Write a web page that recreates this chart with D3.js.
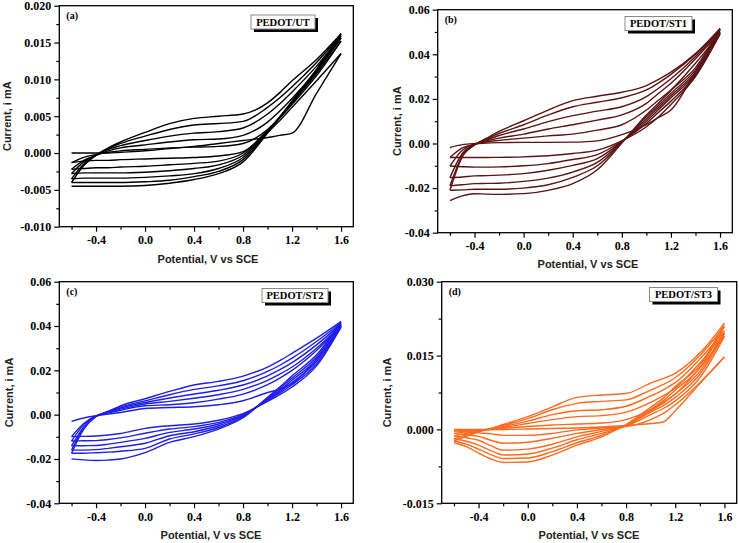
<!DOCTYPE html>
<html><head><meta charset="utf-8">
<script src="https://cdn.jsdelivr.net/npm/d3@7"></script>
<style>body{margin:0;background:#fff}svg{display:block}</style>
</head><body><svg id="chart" width="739" height="543"></svg>
<script>
// Potential grid (V vs SCE) shared by every sweep; each sweep listed in ascending potential
const potentials = [-0.6,-0.5,-0.4,-0.3,-0.2,0.0,0.2,0.4,0.6,0.8,1.0,1.1,1.2,1.4,1.6];

// (a) PEDOT/UT
const aForward = [
  [0,0,0,0,0.0001,0.0003,0.0006,0.0009,0.0013,0.0017,0.0021,0.0024,0.0027,0.0081,0.0135],
  [-0.0013,-0.0006,-0.0002,0.0001,0.0003,0.0005,0.0007,0.0008,0.0009,0.0013,0.0032,0.0048,0.0066,0.0105,0.0152],
  [-0.0022,-0.0010,-0.0003,0.0003,0.0007,0.0011,0.0015,0.0018,0.0019,0.0024,0.0042,0.0057,0.0074,0.0112,0.0156],
  [-0.0028,-0.0012,-0.0003,0.0005,0.0010,0.0017,0.0023,0.0027,0.0029,0.0034,0.0053,0.0067,0.0083,0.0118,0.0159],
  [-0.0035,-0.0015,-0.0003,0.0006,0.0013,0.0023,0.0032,0.0038,0.0040,0.0043,0.0062,0.0075,0.0090,0.0123,0.0161],
  [-0.0040,-0.0017,-0.0003,0.0007,0.0015,0.0028,0.0040,0.0047,0.0050,0.0053,0.0068,0.0082,0.0098,0.0127,0.0162]
];
const aReverse = [
  [-0.0013,-0.0011,-0.0010,-0.0010,-0.0009,-0.0008,-0.0007,-0.0006,-0.0004,0.0002,0.0028,0.0044,0.0062,0.0098,0.0135],
  [-0.0022,-0.0021,-0.0020,-0.0020,-0.0019,-0.0018,-0.0016,-0.0014,-0.0011,0.0000,0.0031,0.0048,0.0068,0.0108,0.0152],
  [-0.0028,-0.0027,-0.0027,-0.0027,-0.0027,-0.0026,-0.0024,-0.0021,-0.0016,-0.0003,0.0030,0.0049,0.0069,0.0110,0.0156],
  [-0.0035,-0.0034,-0.0034,-0.0034,-0.0034,-0.0033,-0.0031,-0.0028,-0.0021,-0.0006,0.0029,0.0049,0.0070,0.0112,0.0159],
  [-0.0040,-0.0040,-0.0040,-0.0040,-0.0040,-0.0039,-0.0037,-0.0032,-0.0025,-0.0009,0.0028,0.0049,0.0070,0.0113,0.0161],
  [-0.0045,-0.0045,-0.0045,-0.0045,-0.0045,-0.0044,-0.0041,-0.0036,-0.0028,-0.0012,0.0027,0.0048,0.0070,0.0114,0.0162]
];

// (b) PEDOT/ST1
const bForward = [
  [-0.0018,-0.0005,0.0000,0.0002,0.0004,0.0005,0.0005,0.0006,0.0012,0.0040,0.0085,0.0117,0.0150,0.0320,0.0490],
  [-0.0063,-0.0020,-0.0003,0.0008,0.0014,0.0024,0.0034,0.0042,0.0060,0.0084,0.0150,0.0195,0.0240,0.0360,0.0495],
  [-0.0101,-0.0030,-0.0004,0.0012,0.0024,0.0042,0.0065,0.0084,0.0105,0.0128,0.0180,0.0225,0.0270,0.0380,0.0500],
  [-0.0153,-0.0045,-0.0005,0.0016,0.0036,0.0065,0.0098,0.0125,0.0145,0.0165,0.0210,0.0248,0.0290,0.0390,0.0508],
  [-0.0190,-0.0055,-0.0006,0.0020,0.0045,0.0084,0.0128,0.0165,0.0185,0.0205,0.0240,0.0272,0.0310,0.0400,0.0512],
  [-0.0210,-0.0060,-0.0007,0.0024,0.0054,0.0102,0.0150,0.0192,0.0212,0.0230,0.0260,0.0288,0.0320,0.0403,0.0516]
];
const bReverse = [
  [-0.0063,-0.0063,-0.0063,-0.0063,-0.0062,-0.0060,-0.0055,-0.0045,-0.0030,0.0012,0.0075,0.0120,0.0175,0.0300,0.0490],
  [-0.0101,-0.0104,-0.0106,-0.0106,-0.0105,-0.0100,-0.0090,-0.0072,-0.0050,0.0010,0.0090,0.0140,0.0190,0.0305,0.0495],
  [-0.0153,-0.0150,-0.0145,-0.0144,-0.0142,-0.0135,-0.0120,-0.0098,-0.0068,0.0008,0.0100,0.0152,0.0205,0.0312,0.0500],
  [-0.0190,-0.0185,-0.0180,-0.0179,-0.0178,-0.0170,-0.0155,-0.0128,-0.0085,0.0006,0.0110,0.0162,0.0215,0.0320,0.0508],
  [-0.0210,-0.0208,-0.0205,-0.0205,-0.0205,-0.0200,-0.0185,-0.0152,-0.0100,0.0004,0.0120,0.0172,0.0225,0.0330,0.0512],
  [-0.0256,-0.0235,-0.0225,-0.0227,-0.0228,-0.0225,-0.0210,-0.0180,-0.0118,0.0002,0.0128,0.0182,0.0238,0.0340,0.0516]
];

// (c) PEDOT/ST2
const cForward = [
  [-0.0030,-0.0015,-0.0005,0.0003,0.0010,0.0028,0.0032,0.0036,0.0045,0.0063,0.0100,0.0115,0.0140,0.0250,0.0395],
  [-0.0099,-0.0040,-0.0005,0.0008,0.0020,0.0040,0.0045,0.0054,0.0070,0.0093,0.0135,0.0165,0.0200,0.0290,0.0400],
  [-0.0119,-0.0045,-0.0006,0.0010,0.0025,0.0048,0.0060,0.0074,0.0090,0.0114,0.0155,0.0183,0.0215,0.0300,0.0405],
  [-0.0141,-0.0055,-0.0007,0.0012,0.0030,0.0055,0.0075,0.0093,0.0110,0.0134,0.0175,0.0203,0.0235,0.0315,0.0410],
  [-0.0160,-0.0060,-0.0008,0.0014,0.0035,0.0062,0.0090,0.0114,0.0130,0.0153,0.0195,0.0223,0.0255,0.0330,0.0415],
  [-0.0174,-0.0065,-0.0008,0.0016,0.0040,0.0072,0.0105,0.0134,0.0150,0.0174,0.0215,0.0244,0.0277,0.0345,0.0420]
];
const cReverse = [
  [-0.0099,-0.0098,-0.0096,-0.0092,-0.0085,-0.0062,-0.0050,-0.0042,-0.0025,0.0005,0.0060,0.0090,0.0125,0.0220,0.0395],
  [-0.0119,-0.0118,-0.0117,-0.0112,-0.0105,-0.0084,-0.0065,-0.0054,-0.0035,0.0000,0.0065,0.0098,0.0135,0.0230,0.0400],
  [-0.0141,-0.0140,-0.0139,-0.0133,-0.0125,-0.0107,-0.0080,-0.0065,-0.0042,-0.0003,0.0068,0.0104,0.0145,0.0240,0.0405],
  [-0.0160,-0.0160,-0.0158,-0.0152,-0.0145,-0.0129,-0.0095,-0.0077,-0.0050,-0.0006,0.0072,0.0110,0.0155,0.0250,0.0410],
  [-0.0174,-0.0174,-0.0172,-0.0169,-0.0165,-0.0152,-0.0110,-0.0087,-0.0058,-0.0010,0.0075,0.0118,0.0165,0.0260,0.0415],
  [-0.0200,-0.0204,-0.0207,-0.0205,-0.0200,-0.0171,-0.0125,-0.0099,-0.0065,-0.0014,0.0078,0.0125,0.0175,0.0270,0.0420]
];

// (d) PEDOT/ST3
const dForward = [
  [0,0,0,0,0,0.0001,0.0002,0.0003,0.0005,0.0008,0.0012,0.0015,0.0038,0.0093,0.0147],
  [-0.0003,-0.0002,-0.0001,0.0000,0.0002,0.0006,0.0009,0.0011,0.0013,0.0020,0.0040,0.0055,0.0072,0.0125,0.0189],
  [-0.0008,-0.0005,-0.0002,0.0001,0.0004,0.0012,0.0020,0.0026,0.0028,0.0035,0.0055,0.0068,0.0084,0.0135,0.0195],
  [-0.0013,-0.0008,-0.0003,0.0001,0.0006,0.0017,0.0030,0.0038,0.0040,0.0047,0.0068,0.0080,0.0095,0.0143,0.0200],
  [-0.0019,-0.0011,-0.0004,0.0002,0.0008,0.0022,0.0040,0.0053,0.0057,0.0060,0.0080,0.0091,0.0105,0.0150,0.0209],
  [-0.0023,-0.0014,-0.0005,0.0002,0.0010,0.0026,0.0046,0.0065,0.0070,0.0073,0.0094,0.0103,0.0114,0.0155,0.0216]
];
const dReverse = [
  [-0.0003,-0.0005,-0.0007,-0.0009,-0.0012,-0.0012,-0.0008,-0.0001,0.0003,0.0006,0.0020,0.0032,0.0050,0.0095,0.0147],
  [-0.0008,-0.0011,-0.0014,-0.0022,-0.0028,-0.0026,-0.0018,-0.0008,0.0000,0.0007,0.0030,0.0042,0.0058,0.0105,0.0189],
  [-0.0013,-0.0017,-0.0022,-0.0033,-0.0042,-0.0040,-0.0030,-0.0015,-0.0004,0.0008,0.0035,0.0048,0.0065,0.0112,0.0195],
  [-0.0019,-0.0024,-0.0032,-0.0043,-0.0052,-0.0050,-0.0038,-0.0021,-0.0008,0.0008,0.0038,0.0053,0.0072,0.0118,0.0200],
  [-0.0023,-0.0030,-0.0040,-0.0051,-0.0059,-0.0058,-0.0045,-0.0027,-0.0012,0.0009,0.0041,0.0058,0.0080,0.0125,0.0209],
  [-0.0027,-0.0035,-0.0048,-0.0060,-0.0067,-0.0066,-0.0052,-0.0032,-0.0015,0.0010,0.0045,0.0063,0.0087,0.0130,0.0216]
];

// Axis ticks
const xMajorTicks = [-0.4, 0.0, 0.4, 0.8, 1.2, 1.6];
const xMinorTicks = [-0.6, -0.2, 0.2, 0.6, 1.0, 1.4];
const aYTicks = [-0.010, -0.005, 0.000, 0.005, 0.010, 0.015, 0.020];
const bYTicks = [-0.04, -0.02, 0.00, 0.02, 0.04, 0.06];
const cYTicks = [-0.04, -0.02, 0.00, 0.02, 0.04, 0.06];
const dYTicks = [-0.015, 0.000, 0.015, 0.030];

const panelLetters = ["(a)", "(b)", "(c)", "(d)"];
const sampleNames = ["PEDOT/UT", "PEDOT/ST1", "PEDOT/ST2", "PEDOT/ST3"];
const lineColors = ["#000000", "#5a1414", "#1f1fe8", "#ff6a1e"];

const xTitle = "Potential, V vs SCE";
const yTitle = "Current, i mA";

const panels = [
  {fwd:aForward, rev:aReverse, yTicks:aYTicks, dec:3, L:59.3, T:5.7, R:353.3, B:226.7, box:[251,15,64,14], yt:7, xtx:208, xty:263},
  {fwd:bForward, rev:bReverse, yTicks:bYTicks, dec:2, L:437.7, T:9.7, R:732.3, B:232.7, box:[625,16.5,67,14], yt:397, xtx:588, xty:267.5},
  {fwd:cForward, rev:cReverse, yTicks:cYTicks, dec:2, L:59.3, T:281.7, R:353.3, B:503.3, box:[262,288.5,66,14], yt:9, xtx:211, xty:539},
  {fwd:dForward, rev:dReverse, yTicks:dYTicks, dec:3, L:441.7, T:281.7, R:736.7, B:503.3, box:[649.5,287.5,68,14], yt:387, xtx:589, xty:539}
];

const svg = d3.select("#chart");
const serif = "'Liberation Serif','Times New Roman',serif";
const sans = "'Liberation Sans',Arial,sans-serif";

panels.forEach((p, i) => {
  const x = d3.scaleLinear().domain([-0.7, 1.7]).range([p.L, p.R]);
  const yd = [p.yTicks[0], p.yTicks[p.yTicks.length - 1]];
  const y = d3.scaleLinear().domain(yd).range([p.B, p.T]);
  const g = svg.append("g");

  const yMinor = [];
  for (let k = 0; k < p.yTicks.length - 1; k++) yMinor.push((p.yTicks[k] + p.yTicks[k + 1]) / 2);

  const xAxis = d3.axisBottom(x).tickValues(xMajorTicks).tickSize(5).tickPadding(4)
    .tickFormat(d => d3.format(".1f")(d).replace("−", "-"));
  const xAxisMinor = d3.axisBottom(x).tickValues(xMinorTicks).tickSize(3).tickFormat("");
  const yAxis = d3.axisLeft(y).tickValues(p.yTicks).tickSize(5).tickPadding(3)
    .tickFormat(d => d3.format("." + p.dec + "f")(d).replace("−", "-"));
  const yAxisMinor = d3.axisLeft(y).tickValues(yMinor).tickSize(3).tickFormat("");

  [ [xAxis, "b"], [xAxisMinor, "b"], [yAxis, "l"], [yAxisMinor, "l"] ].forEach(([ax, side]) => {
    const ag = g.append("g")
      .attr("transform", side === "b" ? `translate(0,${p.B})` : `translate(${p.L},0)`)
      .call(ax);
    ag.select(".domain").remove();
    ag.selectAll("line").attr("stroke", "#000").attr("stroke-width", 1.2);
    ag.selectAll("text").attr("fill", "#000").style("font-family", serif)
      .style("font-weight", "bold").style("font-size", "12px");
  });

  const line = d3.line().x((d, k) => x(potentials[k])).y(d => y(d)).curve(d3.curveMonotoneX);
  const sweeps = [];
  p.fwd.forEach((f, k) => { sweeps.push(f); sweeps.push(p.rev[k]); });
  g.append("g").selectAll("path").data(sweeps).join("path")
    .attr("d", d => line(d))
    .attr("fill", "none")
    .attr("stroke", lineColors[i])
    .attr("stroke-width", 1.4)
    .attr("stroke-linejoin", "round");

  g.append("rect").attr("x", p.L).attr("y", p.T).attr("width", p.R - p.L).attr("height", p.B - p.T)
    .attr("fill", "none").attr("stroke", "#000").attr("stroke-width", 1.3);

  g.append("text").attr("x", p.L + 7).attr("y", p.T + 13).text(panelLetters[i])
    .style("font-family", serif).style("font-weight", "bold").style("font-size", "10px");

  const [bx, by, bw, bh] = p.box;
  g.append("rect").attr("x", bx + 3).attr("y", by + 3).attr("width", bw).attr("height", bh).attr("fill", "#000");
  g.append("rect").attr("x", bx).attr("y", by).attr("width", bw).attr("height", bh)
    .attr("fill", "#fff").attr("stroke", "#8a8a8a").attr("stroke-width", 1);
  g.append("text").attr("x", bx + bw / 2).attr("y", by + bh / 2 + 3.6).attr("text-anchor", "middle")
    .text(sampleNames[i]).style("font-family", serif).style("font-weight", "bold").style("font-size", "10.5px");

  g.append("text").attr("x", p.xtx).attr("y", p.xty).attr("text-anchor", "middle").text(xTitle)
    .style("font-family", sans).style("font-weight", "bold").style("font-size", "11px").attr("fill", "#222");
  g.append("text").attr("transform", `translate(${p.yt + 4},${(p.T + p.B) / 2}) rotate(-90)`)
    .attr("text-anchor", "middle").text(yTitle)
    .style("font-family", sans).style("font-weight", "bold").style("font-size", "11px").attr("fill", "#222");
});
</script>
</body></html>
